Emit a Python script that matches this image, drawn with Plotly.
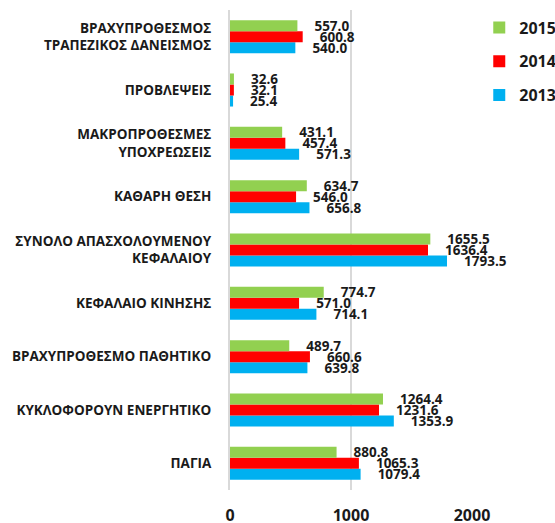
import plotly.graph_objects as go

categories = [
    "ΠΑΓΙΑ",
    "ΚΥΚΛΟΦΟΡΟΥΝ ΕΝΕΡΓΗΤΙΚΟ",
    "ΒΡΑΧΥΠΡΟΘΕΣΜΟ ΠΑΘΗΤΙΚΟ",
    "ΚΕΦΑΛΑΙΟ ΚΙΝΗΣΗΣ",
    "ΣΥΝΟΛΟ ΑΠΑΣΧΟΛΟΥΜΕΝΟΥ<br>ΚΕΦΑΛΑΙΟΥ",
    "ΚΑΘΑΡΗ ΘΕΣΗ",
    "ΜΑΚΡΟΠΡΟΘΕΣΜΕΣ<br>ΥΠΟΧΡΕΩΣΕΙΣ",
    "ΠΡΟΒΛΕΨΕΙΣ",
    "ΒΡΑΧΥΠΡΟΘΕΣΜΟΣ<br>ΤΡΑΠΕΖΙΚΟΣ ΔΑΝΕΙΣΜΟΣ",
]
values_2013 = [1079.4, 1353.9, 639.8, 714.1, 1793.5, 656.8, 571.3, 25.4, 540.0]
values_2014 = [1065.3, 1231.6, 660.6, 571.0, 1636.4, 546.0, 457.4, 32.1, 600.8]
values_2015 = [880.8, 1264.4, 489.7, 774.7, 1655.5, 634.7, 431.1, 32.6, 557.0]
x_ticks = [0, 1000, 2000]

FONT = "Open Sans"
series = [
    ("2013", values_2013, "#00B0F0", 3),
    ("2014", values_2014, "#FF0000", 2),
    ("2015", values_2015, "#92D050", 1),
]

fig = go.Figure()
for name, vals, color, rank in series:
    fig.add_trace(go.Bar(
        y=categories, x=vals, name=name, orientation="h",
        marker=dict(color=color, line=dict(width=0)),
        texttemplate="\u00a0\u00a0\u00a0\u00a0%{x:.1f}",
        textposition="outside", constraintext="none", cliponaxis=False,
        textfont=dict(family=FONT, size=13.5, color="#1a1a1a", weight="bold"),
        legendgroup=name, legendrank=rank,
    ))

fig.update_layout(
    width=555, height=523,
    margin=dict(l=230, r=83, t=10, b=33, autoexpand=False),
    barmode="group", bargap=0.38, bargroupgap=0,
    plot_bgcolor="white", paper_bgcolor="white",
    font=dict(family=FONT, color="#1a1a1a"),
    legend=dict(
        x=1.03, y=0.999, xanchor="left", yanchor="top",
        traceorder="grouped", tracegroupgap=10,
        font=dict(family=FONT, size=16, color="#1a1a1a", weight="bold"),
        itemwidth=30,
    ),
    xaxis=dict(
        range=[0, 2000], tickvals=x_ticks, ticktext=[str(v) for v in x_ticks],
        showgrid=True, gridcolor="#d9d9d9", gridwidth=2,
        zeroline=False, showline=False,
        tickfont=dict(family=FONT, size=16, color="#1a1a1a", weight="bold"),
        ticklabelstandoff=14,
    ),
    yaxis=dict(
        showgrid=False, showline=True, linecolor="#d9d9d9", linewidth=2,
        tickfont=dict(family=FONT, size=13.5, color="#1a1a1a", weight="bold"),
        ticklabelstandoff=14,
    ),
)

fig.write_html("out.html", config={"displayModeBar": False},
               post_script="document.body.style.margin='0';")
